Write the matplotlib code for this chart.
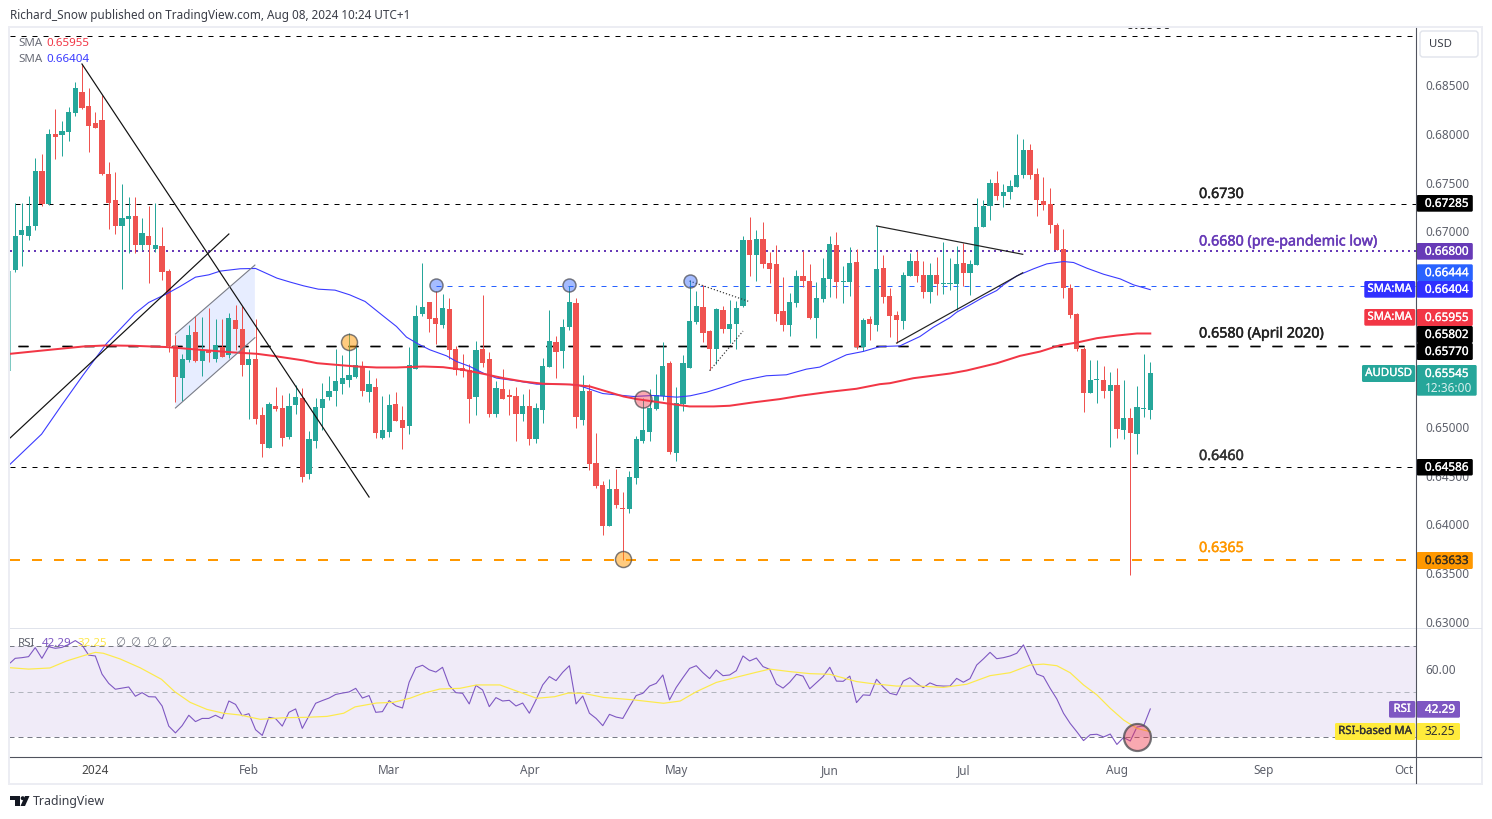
import matplotlib
matplotlib.use("Agg")
import matplotlib.pyplot as plt
import matplotlib.patheffects as pe
from matplotlib.patches import FancyBboxPatch, Polygon, Circle, Rectangle

plt.rcParams['font.family'] = ['Noto Sans', 'DejaVu Sans']
plt.rcParams['lines.scale_dashes'] = False

# ---------- data: daily AUD/USD in pips (price x 10000), one entry per bar ----------
opens = [
 6660.1,6696.6,6695.6,6705.8,6762.1,6728.0,6800.0,6799.0,6802.1,6821.5,6843.1,6828.7,6811.3,6814.4,6759.0,6732.4,6705.8,6713.0,6716.0,6686.3,
 6695.6,6682.3,6685.3,6659.7,6582.9,6550.1,6568.6,6597.2,6567.5,6578.8,6569.6,6581.9,6573.7,6609.5,6600.3,6563.4,6569.6,6512.2,6478.4,6521.5,
 6519.4,6489.7,6522.5,
 6529.6,6452.1,6485.6,6519.4,6530.6,6536.8,6544.0,6548.1,6551.1,6561.4,6535.8,6540.9,6488.6,6494.8,6523.5,6507.1,6501.0,6559.3,6615.6,6627.9,
 6611.6,6604.4,6620.8,6579.8,6560.3,6558.3,6530.6,6579.8,6569.6,6513.2,6538.8,6532.7,6531.7,6513.2,6521.4,6487.6,6517.3,6561.4,6587.0,6577.8,
 6602.3,6626.9,6507.1,6536.8,
 6463.1,6440.6,6398.6,6436.4,6417.0,6416.0,6447.7,6485.6,6494.8,6518.4,6531.7,6565.5,6473.3,6523.5,6560.4,6607.5,6622.9,6598.3,6579.8,6619.8,
 6600.3,6605.4,6623.9,6691.5,6676.1,6692.5,6667.9,6666.9,6618.8,6604.4,6627.0,6654.6,6649.5,6611.6,6631.0,6651.5,6686.4,6648.5,6648.5,6668.9,
 6581.9,6610.6,6604.4,
 6662.7,6634.0,6614.6,6608.4,6654.5,6669.9,6655.5,6638.1,6655.5,6646.3,6646.3,6646.3,6667.8,6657.6,6665.8,6704.7,6726.2,6749.8,6736.5,6740.6,
 6745.7,6758.0,6783.6,6759.0,6731.3,6728.3,6706.8,6682.2,6642.2,6615.6,6579.8,6534.7,6548.0,6548.0,6536.7,6542.9,6496.8,6509.1,6492.7,6518.3,
 6517.3]
closes = [
 6695.6,6701.0,6705.8,6762.1,6728.0,6800.0,6797.0,6803.1,6822.6,6847.2,6826.7,6808.2,6806.2,6759.0,6729.4,6705.8,6714.0,6716.0,6686.3,6698.6,
 6686.3,6686.3,6658.7,6582.9,6551.2,6569.6,6594.2,6567.5,6578.8,6575.7,6583.9,6571.6,6611.6,6600.3,6563.4,6569.6,6508.2,6482.5,6523.5,6518.4,
 6488.7,6521.5,6530.7,
 6449.0,6487.6,6520.4,6528.6,6536.8,6547.0,6550.1,6553.2,6563.4,6536.8,6544.0,6493.8,6496.8,6522.4,6506.1,6498.9,6563.4,6613.6,6622.8,6610.5,
 6605.4,6621.8,6578.8,6558.3,6557.3,6528.6,6578.8,6565.5,6513.2,6539.9,6528.6,6530.6,6513.2,6521.4,6487.6,6519.4,6562.4,6588.0,6576.7,6602.3,
 6627.9,6510.2,6536.8,6462.0,
 6439.5,6398.6,6436.4,6420.1,6416.0,6448.7,6487.7,6496.9,6519.4,6532.7,6562.4,6474.3,6524.5,6565.5,6608.5,6623.9,6596.2,6579.8,6620.8,6600.3,
 6605.4,6621.8,6691.5,6676.1,6692.5,6666.9,6661.8,6615.7,6604.4,6628.0,6654.6,6649.5,6611.6,6632.1,6652.6,6687.4,6648.5,6649.5,6667.9,6581.9,
 6609.5,6605.4,6661.8,
 6633.0,6613.6,6609.5,6655.5,6669.9,6654.5,6638.1,6655.5,6646.3,6647.4,6647.4,6666.8,6657.6,6666.8,6704.7,6726.2,6749.8,6736.5,6740.6,6746.7,
 6758.0,6783.6,6758.0,6732.4,6727.2,6706.8,6681.2,6642.2,6614.6,6579.8,6534.7,6548.0,6549.0,6536.7,6542.9,6497.8,6509.1,6493.7,6520.4,6519.3,
 6555.2]
highs = [
 6729.0,6729.0,6736.5,6775.1,6779.6,6804.8,6825.6,6813.4,6827.4,6853.3,6871.7,6847.2,6822.6,6840.0,6771.0,6761.1,6748.8,6735.5,6735.5,6714.0,
 6726.3,6729.4,6704.8,6661.8,6594.2,6574.4,6604.4,6613.6,6612.6,6621.8,6610.6,6610.6,6616.4,6624.9,6623.2,6579.8,6610.6,6520.4,6525.2,6540.9,
 6532.7,6534.4,6543.0,
 6539.5,6495.8,6529.3,6545.0,6552.2,6579.8,6573.7,6595.8,6581.9,6567.5,6558.3,6550.1,6531.7,6533.7,6535.8,6521.4,6581.9,6624.9,6667.9,6627.9,
 6638.9,6636.1,6632.0,6582.9,6574.7,6564.4,6588.0,6635.1,6576.7,6547.0,6559.3,6538.8,6540.9,6533.7,6538.8,6524.5,6570.6,6619.7,6593.1,6610.5,
 6644.3,6632.0,6553.2,6544.0,
 6493.8,6444.6,6446.7,6456.9,6433.4,6454.9,6490.7,6529.6,6538.9,6554.2,6587.0,6567.5,6540.9,6573.7,6650.5,6639.2,6645.4,6599.3,6621.8,6623.9,
 6630.0,6629.0,6695.6,6715.0,6701.7,6709.9,6679.2,6686.4,6653.6,6637.2,6660.7,6680.2,6666.9,6648.5,6673.0,6695.6,6699.7,6664.8,6684.3,6682.3,
 6611.6,6613.6,6705.8,
 6676.0,6642.2,6618.7,6658.6,6678.1,6680.1,6669.9,6667.8,6674.0,6689.3,6672.9,6685.2,6688.3,6670.9,6734.4,6732.4,6753.9,6762.1,6748.7,6752.8,
 6800.0,6794.8,6789.7,6765.1,6755.9,6744.7,6708.8,6702.7,6646.3,6616.6,6581.8,6568.5,6568.5,6562.3,6556.2,6560.3,6548.0,6519.3,6541.9,6574.6,
 6566.4]
lows = [
 6658.4,6664.2,6691.5,6701.7,6725.6,6727.3,6774.4,6777.5,6792.9,6818.5,6825.6,6781.6,6805.8,6758.0,6702.7,6697.6,6641.3,6678.2,6678.2,6681.2,
 6647.4,6679.2,6650.5,6576.8,6525.5,6526.6,6565.8,6566.5,6552.2,6566.5,6566.5,6571.6,6570.6,6578.8,6552.2,6508.2,6503.0,6469.2,6478.4,6516.3,
 6480.5,6487.7,6513.3,
 6442.9,6446.7,6478.7,6496.8,6527.6,6521.4,6533.7,6540.9,6550.1,6531.7,6525.5,6488.6,6487.6,6489.7,6506.1,6477.4,6492.7,6559.3,6613.6,6597.2,
 6584.9,6601.3,6569.6,6553.2,6551.1,6504.0,6512.2,6561.4,6510.2,6510.2,6528.6,6512.2,6485.6,6506.1,6481.5,6483.5,6504.0,6561.4,6550.1,6560.3,
 6599.3,6498.9,6502.0,6455.9,
 6437.5,6389.3,6398.6,6417.0,6363.7,6411.9,6441.6,6483.6,6485.6,6517.4,6527.6,6472.3,6465.1,6516.3,6560.4,6605.4,6587.0,6557.6,6564.5,6596.2,
 6586.0,6579.8,6622.9,6654.6,6649.5,6662.8,6647.4,6608.5,6598.3,6593.2,6622.9,6643.3,6610.6,6591.1,6628.0,6633.1,6632.1,6627.0,6634.1,6579.8,
 6577.8,6589.1,6598.3,
 6626.9,6592.0,6585.9,6600.2,6654.5,6648.4,6632.0,6626.9,6635.1,6636.1,6640.2,6619.7,6644.3,6635.1,6665.8,6704.7,6711.9,6732.4,6725.2,6733.4,
 6745.7,6754.9,6753.9,6716.0,6722.1,6698.6,6681.2,6632.0,6611.5,6577.7,6515.2,6534.7,6524.4,6529.6,6479.4,6488.6,6487.6,6348.3,6472.2,6510.1,
 6508.1]

# SMA lines read at sampled bars
sma50_bar = [-0.75,3.95,7,10.2,13.65,17.9,20,22.7,24.7,27,29,30.7,33.7,36,39.2,41.2,43.2,45.4,47.9,50.1,52.4,54.9,57.1,58.6,60.4,62.1,64.6,66.1,68.1,
             70.1,72.1,75.1,78.1,81.1,84.1,88,92.6,95.6,99.1,101.1,103.6,106,109,112.5,115.5,118.5,120.5,124.5,127,129.5,132.5,135.5,137.5,140,141,143,
             145,147,148,150,152.5,154.5,157,158.5,160.5,163,165.5,167.5,170]
sma50_val = [6461.7,6492.4,6522.5,6553.2,6585.0,6615.7,6627.3,6636.2,6643.7,6653.2,6655.6,6659.4,6661.8,6662.1,6652.2,6648.1,6644.3,6640.9,6639.9,6635.1,
             6628.3,6614.6,6602.7,6591.8,6584.6,6578.8,6572.6,6566.8,6561.7,6554.9,6549.8,6547.0,6543.6,6543.6,6543.0,6534.0,6531.0,6532.0,6530.3,6531.7,
             6535.5,6540.6,6547.4,6552.2,6553.2,6559.0,6561.1,6573.7,6577.1,6582.1,6582.8,6592.4,6601.9,6611.8,6617.3,6624.8,6632.7,6639.5,6645.3,6654.5,
             6661.7,6666.8,6669.2,6668.2,6662.4,6656.2,6651.4,6645.3,6640.4]
sma200_bar = [-0.75,3.7,10.2,13.7,17.7,22.7,27.7,32.7,36.2,39.2,43.2,45.2,48.1,51.1,54.1,57.1,61.1,64.1,67.1,70.1,73.1,76.1,79.1,83.1,86.1,88.6,91.1,93.1,
              95.6,98,101,104.6,107,110.5,114.5,117.5,122,126,129.5,131,134.5,140,142.5,147,150.5,153.5,156.5,159,162,165,168,170]
sma200_val = [6574.7,6577.8,6582.2,6583.3,6582.9,6581.6,6578.8,6576.1,6574.7,6572.0,6567.9,6565.1,6563.4,6561.7,6560.7,6560.7,6561.7,6561.0,6558.3,6554.2,
              6549.8,6546.3,6544.0,6543.3,6541.2,6536.1,6531.0,6528.3,6525.9,6523.5,6520.8,6520.8,6521.5,6524.9,6528.3,6531.7,6535.8,6538.9,6543.6,6544.6,
              6549.7,6554.5,6557.6,6565.0,6572.6,6577.0,6583.5,6586.2,6590.7,6593.4,6595.5,6595.5]

# RSI per bar (first value is the clipped bar left of bar 0)
rsi_val = [62.7,
 64.66,64.95,65.4,69.4,64.66,69.8,69.1,69.5,70.8,72.5,70.6,66.1,65.7,57.7,53.6,51.0,51.5,52.0,47.9,49.5,
 47.7,47.6,43.6,34.7,31.7,34.9,39.5,36.7,38.1,38.1,39.5,38.0,45.8,44.3,39.3,40.2,33.1,30.6,38.6,38.0,
 34.7,40.8,42.3,33.7,39.3,44.8,46.0,47.1,48.7,49.3,49.8,51.4,47.1,48.2,40.8,41.1,46.0,43.7,42.7,54.1,
 60.5,61.6,59.6,58.6,60.7,52.7,49.5,49.2,44.5,52.7,50.7,43.3,47.3,
 45.8,46.1,43.6,44.9,40.4,46.3,52.9,56.6,54.8,58.5,61.4,44.5,48.0,40.4,38.1,34.9,39.9,38.7,38.1,43.3,
 48.2,49.2,52.4,53.6,57.3,46.3,51.8,56.1,60.2,61.4,58.3,55.7,59.5,57.0,57.3,59.2,65.7,63.5,64.8,61.0,
 59.8,53.3,51.5,54.1,57.6,56.8,51.2,53.9,56.6,60.7,54.6,54.5,56.8,45.1,48.5,48.3,55.4,52.0,49.2,48.5,
 54.6,56.1,53.6,51.7,53.8,52.6,52.4,52.4,55.8,54.1,55.7,61.7,64.4,67.3,64.5,64.95,65.7,66.9,70.6,63.9,
 57.7,56.6,51.4,46.7,40.4,35.9,32.2,28.3,30.9,31.1,29.9,31.2,26.6,29.7,28.1,34.3,34.8,42.29]
rsi_ma_bar = [-0.7,2,5.2,7.7,10.2,12,13.2,15.7,18.7,21.9,23.9,26.2,28.7,31.2,33.7,36.7,40.2,43.7,46.7,49.2,50.9,54.1,56.6,59.1,61.1,63.6,66.6,69.1,72.6,
              75.1,78.1,80.8,82.8,85.1,88.1,92.6,97.1,99.6,102,105,108,111,113,116,119,122,126,128,132,135.5,139,142.5,146,149,152,154,156,158,160,162,
              164,166,168,170]
rsi_ma_val = [60.5,59.9,60.4,63.5,65.8,67.3,66.9,64.4,60.5,55.4,49.9,45.2,42.1,40.4,39.6,37.7,38.4,38.6,39.0,40.4,43.2,44.9,45.2,47.0,49.2,51.1,51.4,52.9,52.9,
              50.2,47.0,47.7,49.3,49.2,47.4,46.3,44.8,45.8,49.9,54.0,56.3,58.5,59.9,58.8,57.9,57.6,54.4,53.6,52.4,52.4,51.8,53.2,57.0,58.3,61.7,62.1,61.4,58.3,52.9,48.5,
              42.6,37.4,33.7,32.25]

# labelled ticks visible on the price scale
price_ticks = [0.63,0.635,0.64,0.645,0.65,0.67,0.675,0.68,0.685]
month_bars = [12,35,56,77,99,122,142,165,187,208]
month_labels = ['2024','Feb','Mar','Apr','May','Jun','Jul','Aug','Sep','Oct']

# horizontal levels in pips, as drawn
level_top, level_73, level_68, level_sup_blue = 6900.0, 6728.5, 6680.0, 6644.4
level_58a, level_58b, level_646, level_636 = 6583.0, 6582.3, 6458.6, 6363.3

# drawn studies in (bar, pips)
downtrend_bar, downtrend_val = [10.0,53.0], [6871.5,6428.0]
uptrend_bar, uptrend_val = [-0.73,32.0], [6488.7,6697.4]
channel_bar, channel_val = [24,35.9,35.9,24], [6595.0,6665.6,6591.2,6519.2]
tri_up_bar, tri_up_val = [129,150.9], [6705.6,6676.6]
tri_lo_bar, tri_lo_val = [132,150.9], [6585.7,6657.7]
dot_up_bar, dot_up_val = [101,110], [6649.2,6628.0]
dot_lo_bar, dot_lo_val = [104,109], [6557.4,6598.0]
orange_bar, orange_val = [50,91], [6587.1,6364.2]
blue_bar, blue_val = [63,83,101], [6644.8,6644.8,6649.0]
pink_bar, pink_val = [94], [6528.1]

GREEN, RED = '#26a69a', '#ef5350'
W, H = 1492, 819
PX = 0.72  # one pixel in points at dpi 100

fig = plt.figure(figsize=(W/100, H/100), dpi=100, facecolor='white')
def axpx(l, t, r, b, **k):
    return fig.add_axes([l/W, 1-b/H, (r-l)/W, (b-t)/H], **k)

ax = axpx(10, 28, 1416.3, 627)
rx = axpx(10, 628, 1416.3, 757, sharex=ax)
X0, STEP = 15.2, 6.677
ax.set_xlim((10-X0)/STEP, (1416.3-X0)/STEP)
ax.set_ylim(0.685-(627-85)/9764, 0.685+(85-28)/9764)
rx.set_ylim(50-(757-691.5)/2.2625, 50+(691.5-628)/2.2625)

to_p = lambda seq: [v/1e4 for v in seq]
# candles
n = len(opens)
assert n == len(closes) == len(highs) == len(lows) == 171
for i in range(n):
    o, c, h, l = opens[i]/1e4, closes[i]/1e4, highs[i]/1e4, lows[i]/1e4
    col = GREEN if c >= o else RED
    ax.plot([i, i], [l, h], color=col, lw=1*PX, solid_capstyle='butt', zorder=3)
    top, bot = max(o, c), min(o, c)
    ax.bar(i, max(top-bot, 0.00012), bottom=bot, width=0.78, color=col, lw=0, zorder=3.1)
# clipped bar at the left edge
ax.plot([-0.72, -0.72], [6558/1e4, 6660/1e4], color=GREEN, lw=1*PX, alpha=0.6, zorder=3)

# levels
def lvl(val, x0, color, lw, dash):
    ax.plot([x0, 230], [val/1e4, val/1e4], color=color, lw=lw*PX, dashes=dash, zorder=2, dash_capstyle='butt')
thin = (5*PX, 6*PX); thick = (10*PX, 12*PX)
lvl(level_top, -0.8, '#000000', 1, thin)
lvl(level_73, 0, '#000000', 1, thin)
lvl(level_68, -0.8, '#673ab7', 2, (2*PX, 4*PX))
lvl(level_sup_blue, 63, '#2962ff', 1, thin)
lvl(level_58a, 0.46, '#000000', 1.4, thick)
lvl(level_58b, 0.46, '#000000', 1.4, thick)
lvl(level_646, -0.8, '#000000', 1, thin)
lvl(level_636, -0.8, '#ff9800', 2, thick)

# SMA
ax.plot(sma50_bar, to_p(sma50_val), color='#3a3aff', lw=1.1*PX, zorder=4)
ax.plot(sma200_bar, to_p(sma200_val), color='#f23645', lw=2*PX, zorder=4)

# studies
ax.plot(downtrend_bar, to_p(downtrend_val), color='#111111', lw=1.2*PX, zorder=5)
ax.plot(uptrend_bar, to_p(uptrend_val), color='#111111', lw=1.2*PX, zorder=5)
ax.fill(channel_bar, to_p(channel_val), color='#2962ff', alpha=0.11, lw=0, zorder=1.5)
ax.plot(channel_bar[:2], to_p(channel_val[:2]), color='#787b86', lw=1.1*PX, zorder=5)
ax.plot(channel_bar[3:1:-1], to_p(channel_val[3:1:-1]), color='#787b86', lw=1.1*PX, zorder=5)
ax.plot(tri_up_bar, to_p(tri_up_val), color='#222222', lw=1.2*PX, zorder=5)
ax.plot(tri_lo_bar, to_p(tri_lo_val), color='#222222', lw=1.2*PX, zorder=5)
ax.plot(dot_up_bar, to_p(dot_up_val), color='#333333', lw=1.2*PX, dashes=(1.2*PX, 2*PX), zorder=5)
ax.plot(dot_lo_bar, to_p(dot_lo_val), color='#333333', lw=1.2*PX, dashes=(1.2*PX, 2*PX), zorder=5)

edge = (0.28, 0.28, 0.3, 0.7)
ax.scatter(orange_bar, to_p(orange_val), s=(16*PX)**2, facecolors=(1, 0.6, 0, 0.5), edgecolors=[edge], linewidths=1.5*PX, zorder=6)
ax.scatter(blue_bar, to_p(blue_val), s=(13*PX)**2, facecolors=(0.16, 0.38, 1, 0.42), edgecolors=[edge], linewidths=1.5*PX, zorder=6)
ax.scatter(pink_bar, to_p(pink_val), s=(17*PX)**2, facecolors=(0.95, 0.2, 0.27, 0.42), edgecolors=[edge], linewidths=1.5*PX, zorder=6)

# level annotations
def note(s, color, bar, py):
    t = ax.text(bar, 0.685-(py-85)/9764, s, color=color, fontsize=10.3, va='center', ha='left', clip_on=True, zorder=7)
    t.set_path_effects([pe.withStroke(linewidth=0.35, foreground=color)])
note('0.6900', '#222222', 166.4, 25)
note('0.6730', '#222222', 177.3, 194.5)
note('0.6680 (pre-pandemic low)', '#673ab7', 177.3, 242)
note('0.6580 (April 2020)', '#222222', 177.3, 334)
note('0.6460', '#333333', 177.3, 456.5)
note('0.6365', '#ff9800', 177.3, 548.5)

# RSI
rx.axhspan(30, 70, color='#7e57c2', alpha=0.115, lw=0, zorder=1)
for v, c in ((70, '#787b86'), (30, '#787b86'), (50, '#b2b5be')):
    rx.plot([-1, 230], [v, v], color=c, lw=1*PX, dashes=(5*PX, 4*PX), zorder=2)
rx.plot([-0.72]+list(range(n)), rsi_val, color='#7e57c2', lw=1.1*PX, zorder=4)
rx.plot(rsi_ma_bar, rsi_ma_val, color='#fdea4b', lw=1.2*PX, zorder=4)
rx.scatter([168], [29.8], s=(27*PX)**2, facecolors=(0.95, 0.2, 0.27, 0.42), edgecolors=[(0.28, 0.28, 0.3, 0.75)], linewidths=2.2*PX, zorder=6)

# axes furniture
for a in (ax, rx):
    for s in a.spines.values():
        s.set_visible(False)
    a.yaxis.tick_right()
    a.tick_params(axis='y', length=0, pad=6.2, labelsize=8.5, labelcolor='#5d606b')
    a.set_facecolor('none')
ax.set_yticks(price_ticks)
ax.set_yticklabels([f'{t:.5f}' for t in price_ticks])
ax.tick_params(axis='x', length=0, labelbottom=False)
rx.set_yticks([60])
rx.set_yticklabels(['60.00'])
rx.set_xticks(month_bars)
rx.set_xticklabels(month_labels)
rx.tick_params(axis='x', length=0, pad=5.2, labelsize=8.5, labelcolor='#5d606b')
rx.get_xticklabels()[0].set_fontweight('bold')
rx.get_xticklabels()[0].set_color('#444444')

# overlay chrome in pixel space
ov = fig.add_axes([0, 0, 1, 1], zorder=10)
ov.set_xlim(0, W); ov.set_ylim(H, 0); ov.axis('off'); ov.patch.set_alpha(0)
def T(x, y, s, color='#333333', size=8.5, ha='left', weight='normal', stroke=0):
    t = ov.text(x, y, s, color=color, fontsize=size, ha=ha, va='center', fontweight=weight)
    if stroke:
        t.set_path_effects([pe.withStroke(linewidth=stroke, foreground=color)])
def box(x0, y0, x1, y1, color, r=1.5, ec='none', lw=0):
    ov.add_patch(FancyBboxPatch((x0, y0), x1-x0, y1-y0, boxstyle=f'round,pad=0,rounding_size={r}', fc=color, ec=ec, lw=lw))

# frame
FR = '#ecedf3'
ov.add_patch(Rectangle((9, 27), 1473, 757, fill=False, ec=FR, lw=2*PX))
ov.plot([10, 1481], [627.6, 627.6], color='#e0e3eb', lw=1*PX)
ov.plot([10, 1481], [757, 757], color='#50535e', lw=1.1*PX)
ov.plot([1416.3, 1416.3], [28, 783], color='#50535e', lw=1.1*PX)

T(10, 15, 'Richard_Snow published on TradingView.com, Aug 08, 2024 10:24 UTC+1', '#3a3d47', 8.45)
T(18, 43, 'SMA', '#6a6d78', 8.3); T(46, 43, '0.65955', '#f23645', 8.3)
T(18, 60, 'SMA', '#6a6d78', 8.3); T(46, 60, '0.66404', '#3a3aff', 8.3)
T(18, 643, 'RSI', '#5d606b', 8.3); T(42, 643, '42.29', '#7e57c2', 8.3); T(78, 643, '32.25', '#fde74c', 8.3, weight='bold')
for px in (115, 130, 146, 161):
    T(px, 643, '∅', '#787b86', 8.3)

# USD button
box(1420, 31, 1478, 57, 'white', r=3, ec='#e0e3eb', lw=1)
T(1429.5, 44.5, 'USD', '#3a3d47', 8.2)

VX0, VX1 = 1416.6, 1472.8
def tag(yc0, yc1, color, s, tc='white', x1=VX1):
    box(VX0, yc0, x1, yc1, color)
    T(VX0+8.3, (yc0+yc1)/2, s, tc, 8.5, stroke=0.2)
tag(195, 211.7, '#000000', '0.67285')
tag(243, 259.7, '#673ab7', '0.66800')
tag(264.3, 281, '#2962ff', '0.66444')
tag(281, 297.7, '#3030ff', '0.66404')
tag(309, 326, '#f23645', '0.65955')
tag(326, 343, '#000000', '0.65802')
tag(343, 360, '#000000', '0.65770')
tag(459, 475.5, '#000000', '0.64586')
tag(552, 569, '#ff9800', '0.63633', '#3a3020')
box(VX0, 365, 1476.7, 395.7, GREEN)
T(VX0+8.3, 373.5, '0.65545', 'white', 8.5, stroke=0.2)
T(VX0+8.3, 388, '12:36:00', '#d9f0ee', 8.5)
def left_tag(x0, y0, y1, color, s, tc='white'):
    box(x0, y0, 1415.3, y1, color)
    T((x0+1415.3)/2, (y0+y1)/2, s, tc, 8.2, ha='center', stroke=0.2)
left_tag(1364.3, 281, 297.7, '#3030ff', 'SMA:MA')
left_tag(1364.3, 309, 325.7, '#f23645', 'SMA:MA')
left_tag(1362, 365, 382, GREEN, 'AUDUSD')
# RSI tags
left_tag(1389, 701, 717.7, '#7e57c2', 'RSI')
box(VX0, 701, 1460, 717.7, '#7e57c2'); T(VX0+8.3, 709.3, '42.29', 'white', 8.5, stroke=0.2)
left_tag(1335, 723, 740, '#ffeb3b', 'RSI-based MA', '#333333')
box(VX0, 723, 1460, 740, '#ffeb3b'); T(VX0+8.3, 731.5, '32.25', '#333333', 8.5)

# TradingView mark
ov.add_patch(Polygon([(10, 796), (20, 796), (20, 806), (15, 806), (15, 800), (10, 800)], fc='#131722', ec='none'))
ov.add_patch(Circle((22.7, 798.2), 2.0, fc='#131722', ec='none'))
ov.add_patch(Polygon([(25, 796), (29.5, 796), (25, 806), (20.5, 806)], fc='#131722', ec='none'))
T(33, 801.5, 'TradingView', '#3a3d47', 8.9)

fig.savefig('out.png', dpi=100, facecolor='white')
